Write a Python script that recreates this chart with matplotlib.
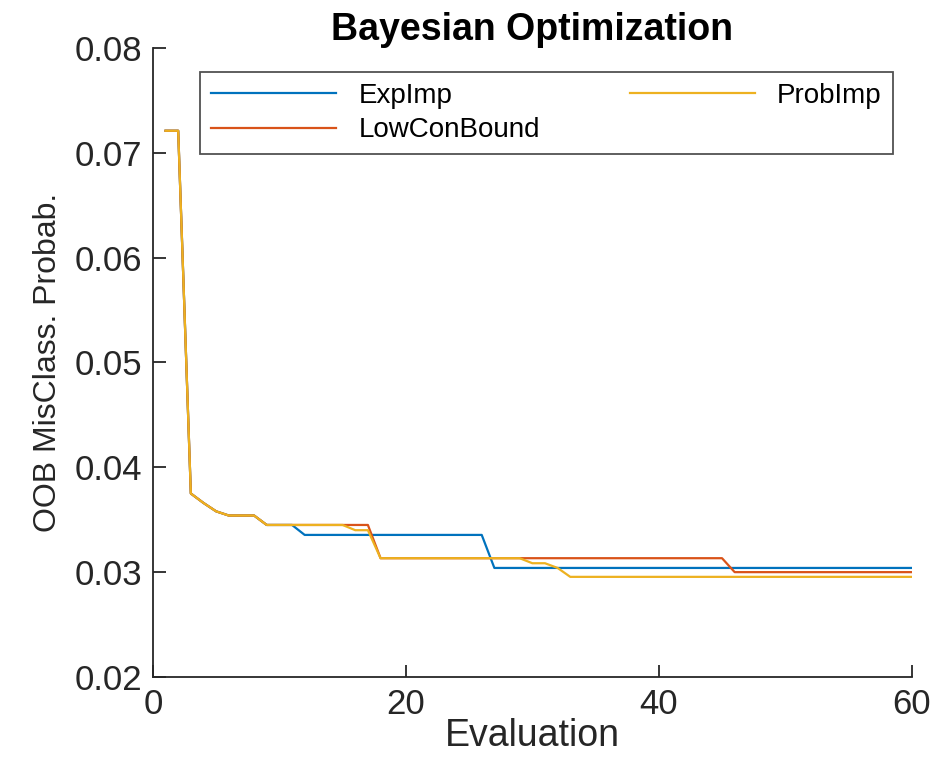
import matplotlib
matplotlib.use("Agg")
import matplotlib.pyplot as plt
import numpy as np

plt.rcParams['font.family'] = ['Liberation Sans', 'DejaVu Sans']

evaluations = list(range(1, 61))

common_head = [0.0721, 0.0721, 0.0375, 0.0366, 0.0358, 0.0354, 0.0354, 0.0354,
               0.0345, 0.0345, 0.0345]

exp_imp = common_head + [0.03355] * 15 + [0.0304] * 34
low_con_bound = common_head + [0.0345] * 6 + [0.03133] * 28 + [0.0300] * 15
prob_imp = (common_head + [0.0345] * 4 + [0.0340] * 2 + [0.03133] * 12
            + [0.03085, 0.03085, 0.0304] + [0.02955] * 28)

series_names = ["ExpImp", "LowConBound", "ProbImp"]
series_values = [exp_imp, low_con_bound, prob_imp]
colors = ["#0072BD", "#D95319", "#EDB120"]

x_ticks = [0, 20, 40, 60]
y_ticks = [0.02, 0.03, 0.04, 0.05, 0.06, 0.07, 0.08]

fig = plt.figure(figsize=(9.38, 7.57), dpi=100)
ax = fig.add_axes([0.163, 0.1057, 0.809, 0.831])

for name, vals, c in zip(series_names, series_values, colors):
    ax.plot(evaluations, vals, color=c, lw=1.6, label=name)

ax.set_xlim(0, 60)
ax.set_ylim(0.02, 0.08)
ax.set_xticks(x_ticks)
ax.set_yticks(y_ticks)
ax.set_yticklabels([f"{v:.2f}" for v in y_ticks])
ax.spines['top'].set_visible(False)
ax.spines['right'].set_visible(False)
for s in ['left', 'bottom']:
    ax.spines[s].set_linewidth(1.3)
    ax.spines[s].set_color('#262626')
ax.tick_params(direction='in', length=9, width=1.3, labelsize=25, colors='#262626',
               labelcolor='#262626', pad=8)

ax.set_xlabel("Evaluation", fontsize=27, color='#262626', labelpad=-2)
ax.set_ylabel("OOB MisClass. Probab.", fontsize=23, color='#262626', labelpad=8)
ax.set_title("Bayesian Optimization", fontsize=27, fontweight='bold', pad=4)

leg = ax.legend(ncol=2, loc='upper left', bbox_to_anchor=(0.062, 0.838, 0.913, 0.124),
                mode='expand', fontsize=20, handlelength=4.5, frameon=True,
                fancybox=False, edgecolor='#262626', borderaxespad=0,
                handletextpad=0.8, labelspacing=0.3, borderpad=0.4)
leg.get_frame().set_linewidth(1.3)

fig.savefig("out.png", dpi=100)
